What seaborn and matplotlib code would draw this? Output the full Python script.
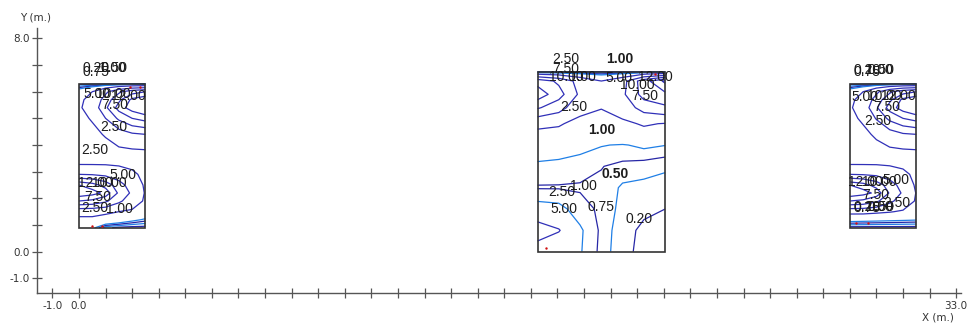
import numpy as np
import seaborn as sns
import matplotlib
matplotlib.use("Agg")
import matplotlib.pyplot as plt
from matplotlib.patches import Rectangle

# Contour levels of the field
levels = [0.2, 0.5, 0.75, 1.0, 2.5, 5.0, 7.5, 10.0, 12.0]

# Left block: node coordinates (m) and field values, rows from bottom to top
left_x = [0.0, 0.5, 1.0, 1.5, 2.0, 2.5]
left_y = [0.9, 1.2, 1.5, 1.9, 2.2, 2.5, 2.9, 3.3, 3.8, 4.4, 5.0, 5.4, 5.7, 6.0, 6.3]
left_z = [
    [1.5, 1.2, 0.3, 0.1, 0.05, 0.05],
    [2.2, 2.2, 1.9, 1.6, 1.2, 0.9],
    [3.0, 3.0, 2.8, 2.5, 2.2, 1.7],
    [10.0, 9.5, 8.0, 5.5, 3.6, 2.2],
    [13.5, 12.8, 11.5, 7.0, 4.5, 2.3],
    [12.0, 11.0, 9.0, 6.0, 3.8, 2.2],
    [5.0, 4.8, 4.3, 3.6, 2.8, 2.1],
    [2.3, 2.3, 2.3, 2.2, 2.1, 2.1],
    [2.0, 2.0, 2.1, 2.2, 2.3, 2.4],
    [2.05, 2.2, 2.6, 3.6, 4.6, 5.0],
    [2.2, 2.6, 5.0, 8.0, 10.0, 11.0],
    [2.3, 3.2, 7.0, 11.0, 13.0, 14.0],
    [2.2, 3.0, 6.0, 9.5, 12.5, 13.5],
    [1.5, 2.5, 4.5, 7.0, 9.0, 10.0],
    [0.05, 0.05, 0.05, 0.05, 0.05, 0.05],
]

# Middle block
mid_x = [17.25, 18.05, 18.85, 19.65, 20.45, 21.25, 22.05]
mid_y = [0.0, 0.8, 1.6, 2.4, 3.2, 4.0, 4.8, 5.4, 5.9, 6.4, 6.75]
mid_z = [
    [1.6, 1.3, 1.03, 0.68, 0.27, 0.13, 0.08],
    [3.4, 2.6, 1.05, 0.7, 0.3, 0.14, 0.1],
    [1.15, 1.1, 0.85, 0.7, 0.4, 0.26, 0.2],
    [0.73, 0.73, 0.72, 0.7, 0.45, 0.42, 0.38],
    [0.9, 0.88, 0.85, 0.76, 0.68, 0.62, 0.55],
    [1.35, 1.25, 1.12, 1.02, 0.97, 1.08, 1.01],
    [2.9, 2.7, 1.9, 1.5, 2.1, 2.7, 2.4],
    [7.8, 6.0, 3.2, 2.6, 3.5, 6.0, 7.0],
    [11.5, 8.5, 4.5, 3.0, 4.5, 8.5, 9.5],
    [9.0, 7.0, 4.0, 2.5, 4.0, 9.0, 12.5],
    [0.1, 0.1, 0.15, 0.2, 0.15, 0.1, 0.1],
]

# Right block
right_x = [29.0, 29.5, 30.0, 30.5, 31.0, 31.5]
right_y = [0.9, 1.2, 1.5, 1.9, 2.2, 2.5, 2.9, 3.3, 3.8, 4.4, 5.0, 5.4, 5.7, 6.0, 6.3]
right_z = [
    [0.05, 0.05, 0.05, 0.05, 0.05, 0.05],
    [1.3, 1.25, 1.2, 1.15, 1.1, 1.05],
    [3.0, 3.0, 2.8, 2.6, 2.3, 1.8],
    [10.0, 9.5, 8.0, 5.6, 3.7, 2.3],
    [13.5, 12.8, 11.5, 7.2, 4.6, 2.4],
    [12.0, 11.0, 9.0, 6.2, 3.9, 2.2],
    [5.0, 4.8, 4.4, 3.7, 2.9, 2.1],
    [2.3, 2.3, 2.3, 2.2, 2.1, 2.1],
    [2.0, 2.0, 2.1, 2.2, 2.3, 2.4],
    [2.05, 2.2, 2.7, 3.7, 4.7, 5.0],
    [2.2, 2.7, 5.2, 8.2, 10.0, 11.0],
    [2.3, 3.3, 7.2, 11.0, 13.0, 14.0],
    [2.2, 3.0, 6.0, 9.5, 12.5, 13.5],
    [1.5, 2.5, 4.5, 7.0, 9.0, 10.0],
    [0.05, 0.05, 0.05, 0.05, 0.05, 0.05],
]

# Measurement points
point_x = [0.48, 0.85, 1.92, 2.29, 17.57, 21.67, 29.23, 29.68]
point_y = [0.97, 0.97, 6.19, 6.19, 0.14, 6.65, 1.08, 1.08]

# Contour label values and where they are written
label_spots = [
    (0.20, 0.64, 6.89), (0.75, 0.64, 6.74), (0.50, 1.32, 6.89), (1.00, 1.24, 6.89),
    (5.00, 0.67, 5.91), (10.00, 1.28, 5.91), (12.00, 1.84, 5.84), (7.50, 1.35, 5.50),
    (2.50, 1.30, 4.68), (2.50, 0.60, 3.81), (5.00, 1.67, 2.88), (12.00, 0.62, 2.58),
    (10.00, 1.15, 2.58), (7.50, 0.71, 2.05), (2.50, 0.60, 1.64), (1.00, 1.52, 1.60),
    (2.50, 18.33, 7.22), (7.50, 18.32, 6.85),
    (10.00, 18.35, 6.55), (1.00, 18.95, 6.55), (5.00, 20.30, 6.51), (12.00, 21.67, 6.55),
    (10.00, 21.01, 6.25), (7.50, 21.29, 5.84), (2.50, 18.62, 5.41),
    (1.00, 18.98, 2.46), (2.50, 18.15, 2.22), (5.00, 18.23, 1.60), (0.75, 19.64, 1.69),
    (0.20, 21.07, 1.23),
    (0.20, 29.65, 6.81), (0.75, 29.65, 6.74), (0.50, 30.17, 6.81), (1.00, 30.10, 6.81),
    (5.00, 29.57, 5.80), (10.00, 30.29, 5.84), (12.00, 30.81, 5.84), (7.50, 30.38, 5.43),
    (2.50, 30.06, 4.90), (12.00, 29.57, 2.61), (10.00, 30.10, 2.61), (5.00, 30.72, 2.69),
    (7.50, 29.98, 2.13), (2.50, 30.77, 1.83), (0.20, 29.65, 1.68), (0.75, 29.65, 1.64),
    (0.50, 30.17, 1.68), (1.00, 30.10, 1.68),
]
# Labels written in heavier type
strong_spots = [(1.00, 20.35, 7.22), (1.00, 19.66, 4.56), (0.50, 20.17, 2.91)]

x_ticks = list(range(-1, 34))
y_ticks = list(range(-1, 9))
x_labeled = [-1.0, 0.0, 33.0]
y_labeled = [-1.0, 0.0, 8.0]

level_colors = ["#2727a6", "#1f7fe6", "#2727a6", "#1f7fe6",
                "#3030b8", "#3030b8", "#3030b8", "#3030b8", "#3030b8"]

sns.set_style("ticks")
plt.rcParams["font.family"] = ["DejaVu Sans"]

fig = plt.figure(figsize=(9.7, 3.27), dpi=100)
ax = fig.add_axes([37 / 970, 34 / 327, 924.5 / 970, 265.3 / 327])
ax.set_xlim(-1.58, 33.2)
ax.set_ylim(-1.55, 8.4)


def draw_block(xs, ys, z):
    gx, gy = np.meshgrid(xs, ys)
    ax.contour(gx, gy, np.array(z), levels=levels, colors=level_colors,
               linewidths=0.9)
    ax.add_patch(Rectangle((xs[0], ys[0]), xs[-1] - xs[0], ys[-1] - ys[0],
                           fill=False, edgecolor="#333333", linewidth=1.2, zorder=3))


draw_block(left_x, left_y, left_z)
draw_block(mid_x, mid_y, mid_z)
draw_block(right_x, right_y, right_z)

sns.scatterplot(x=point_x, y=point_y, color="#d01010", s=3, linewidth=0,
                ax=ax, legend=False, zorder=4)

label_font = ["Liberation Sans", "DejaVu Sans"]
for value, lx, ly in label_spots:
    ax.text(lx, ly, f"{value:.2f}", ha="center", va="center", fontsize=10,
            color="#1c1c1c", family=label_font, zorder=5)
for value, lx, ly in strong_spots:
    ax.text(lx, ly, f"{value:.2f}", ha="center", va="center", fontsize=10,
            color="#1c1c1c", family=label_font, fontweight="bold", zorder=5)

# Axes: only left and bottom lines, ticks crossing them
for side in ("top", "right"):
    ax.spines[side].set_visible(False)
for side in ("left", "bottom"):
    ax.spines[side].set_color("#555555")
    ax.spines[side].set_linewidth(1.0)

ax.set_xticks(x_ticks)
ax.set_yticks(y_ticks)
ax.set_xticklabels([f"{t:.1f}" if t in x_labeled else "" for t in x_ticks])
ax.set_yticklabels([f"{t:.1f}" if t in y_labeled else "" for t in y_ticks])
ax.tick_params(direction="inout", length=7, width=0.9, color="#555555",
               labelsize=7.5, labelcolor="#333333", pad=2)
ax.grid(False)

fig.text(35.5 / 970, 1 - 17.5 / 327, "Y (m.)", ha="center", va="center",
         fontsize=7.5, color="#333333")
fig.text(938 / 970, 1 - 318 / 327, "X (m.)", ha="center", va="center",
         fontsize=7.5, color="#333333")

fig.savefig("out.png", dpi=100)
